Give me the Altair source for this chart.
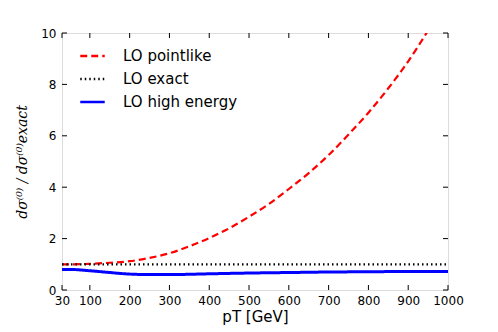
import altair as alt
import pandas as pd

# ---- data ----
pt_pointlike = [30, 50, 100, 150, 200, 250, 300, 350, 400, 450, 500, 550, 600,
                650, 700, 750, 800, 850, 900, 950, 1000]
val_pointlike = [1.0, 1.0, 1.02, 1.06, 1.12, 1.25, 1.43, 1.7, 2.02, 2.4, 2.85,
                 3.35, 3.93, 4.55, 5.25, 6.05, 6.9, 7.85, 8.9, 10.1, 11.4]

pt_exact = [30, 1000]
val_exact = [1.0, 1.0]

pt_he = [30, 50, 100, 150, 200, 250, 300, 400, 500, 600, 700, 800, 900, 1000]
val_he = [0.8, 0.8, 0.75, 0.68, 0.62, 0.6, 0.6, 0.63, 0.66, 0.68, 0.7, 0.71,
          0.72, 0.72]

series_names = ["LO pointlike", "LO exact", "LO high energy"]
series_colors = ["#ff0000", "#000000", "#0000ff"]
series_dash = [[7, 4], [1.5, 3], [1, 0]]

x_ticks = [30, 100, 200, 300, 400, 500, 600, 700, 800, 900, 1000]
y_ticks = [0, 2, 4, 6, 8, 10]

rows = []
for name, xs, ys in zip(series_names,
                        [pt_pointlike, pt_exact, pt_he],
                        [val_pointlike, val_exact, val_he]):
    for x, y in zip(xs, ys):
        rows.append({"pt": x, "ratio": y, "series": name})
df = pd.DataFrame(rows)

W, H = 386, 257

xscale = alt.Scale(domain=[30, 1000], nice=False, zero=False)
yscale = alt.Scale(domain=[0, 10], nice=False)

x_axis = alt.Axis(values=x_ticks, title="pT [GeV]", ticks=False,
                  domain=False, grid=False, labelPadding=5,
                  format="d", labelOverlap=False, labelFlush=False,
                  labelFontSize=12, labelColor="black",
                  labelFont="DejaVu Sans", titleFont="DejaVu Sans",
                  titleFontSize=15, titleFontWeight="normal",
                  titleColor="black", titlePadding=3)
y_axis = alt.Axis(values=y_ticks, title="dσ⁽⁰⁾ / dσ⁽⁰⁾exact",
                  ticks=False, domain=False, grid=False,
                  labelPadding=6, labelFontSize=12, format="d",
                  labelOverlap=False, labelFlush=False,
                  labelColor="black", labelFont="DejaVu Sans",
                  titleFont="DejaVu Serif", titleFontSize=14,
                  titleFontStyle="italic",
                  titleFontWeight="normal", titleColor="black",
                  titlePadding=11)

lines = alt.Chart(df).mark_line(clip=True, interpolate="monotone").encode(
    x=alt.X("pt:Q", scale=xscale, axis=x_axis),
    y=alt.Y("ratio:Q", scale=yscale, axis=y_axis),
    color=alt.Color("series:N",
                    scale=alt.Scale(domain=series_names, range=series_colors),
                    legend=alt.Legend(title=None, orient="none", legendX=17,
                                      legendY=14, symbolType="stroke",
                                      symbolSize=600, symbolStrokeWidth=2.4,
                                      clipHeight=18,
                                      labelFontSize=15, labelFont="DejaVu Sans",
                                      labelColor="black", rowPadding=5,
                                      labelOffset=17, labelLimit=300)),
    strokeDash=alt.StrokeDash("series:N",
                              scale=alt.Scale(domain=series_names,
                                              range=series_dash),
                              legend=None),
    strokeWidth=alt.condition("datum.series == 'LO high energy'",
                              alt.value(3), alt.value(2.2)),
)

xt = pd.DataFrame({"t": x_ticks})
yt = pd.DataFrame({"t": y_ticks})

tick_style = dict(color="black", strokeWidth=1)
xb = alt.Chart(xt).mark_rule(**tick_style).encode(
    x=alt.X("t:Q", scale=xscale, axis=x_axis), y=alt.value(H), y2=alt.value(H - 5))
xtop = alt.Chart(xt).mark_rule(**tick_style).encode(
    x=alt.X("t:Q", scale=xscale, axis=x_axis), y=alt.value(0), y2=alt.value(5))
yl = alt.Chart(yt).mark_rule(**tick_style).encode(
    y=alt.Y("t:Q", scale=yscale, axis=y_axis), x=alt.value(0), x2=alt.value(5))
yr = alt.Chart(yt).mark_rule(**tick_style).encode(
    y=alt.Y("t:Q", scale=yscale, axis=y_axis), x=alt.value(W - 5), x2=alt.value(W))

chart = alt.layer(lines, xb, xtop, yl, yr).properties(
    width=W, height=H,
    autosize=alt.AutoSizeParams(type="none"),
    padding={"left": 54, "top": 25, "right": 42, "bottom": 35},
).configure_view(stroke="black", strokeWidth=1.2).configure(background="white")

chart.save("out.html", embed_options={"renderer": "svg", "actions": False})
